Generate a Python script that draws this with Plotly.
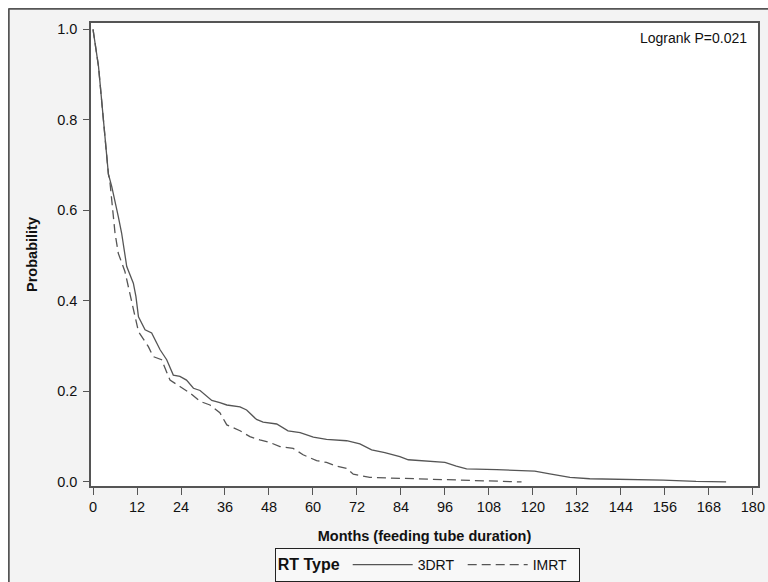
import plotly.graph_objects as go

# --- data ---
months_3drt = [0, 1.5, 4.2, 5.1, 6.9, 7.8, 9.2, 11.0, 11.7, 12.4, 14.2, 16.0, 18.3, 20.1, 21.9,
               23.7, 25.5, 27.4, 29.2, 32.4, 34.6, 36.5, 40.1, 41.9, 44.6, 46.4, 50.1, 53.2,
               56.5, 60.1, 63.7, 69.2, 72.8, 76.0, 79.6, 83.7, 86.0, 91.0, 96.0, 99.1, 101.9,
               110.1, 120.5, 124.6, 130.1, 135.5, 146.4, 155.5, 164.5, 172.7]
surv_3drt = [1.0, 0.918, 0.68, 0.653, 0.586, 0.55, 0.476, 0.439, 0.41, 0.365, 0.336, 0.329,
             0.292, 0.270, 0.236, 0.233, 0.225, 0.207, 0.202, 0.180, 0.175, 0.170, 0.166,
             0.159, 0.138, 0.132, 0.128, 0.113, 0.109, 0.099, 0.094, 0.091, 0.084, 0.071,
             0.065, 0.056, 0.049, 0.046, 0.043, 0.035, 0.029, 0.027, 0.024, 0.018, 0.010,
             0.007, 0.006, 0.004, 0.001, 0.0]

months_imrt = [0, 1.5, 4.2, 4.6, 6.0, 6.9, 8.7, 10.5, 12.4, 15.1, 16.4, 18.7, 21.0, 23.7,
               26.5, 29.2, 31.9, 34.6, 36.5, 40.1, 42.8, 45.5, 48.3, 51.0, 54.6, 57.3, 61.0,
               63.7, 66.4, 69.2, 71.0, 75.5, 87.3, 101.0, 110.1, 116.9]
surv_imrt = [1.0, 0.918, 0.68, 0.664, 0.55, 0.505, 0.465, 0.402, 0.332, 0.299, 0.277, 0.270,
             0.225, 0.211, 0.196, 0.178, 0.170, 0.153, 0.126, 0.113, 0.100, 0.093, 0.087,
             0.078, 0.074, 0.060, 0.047, 0.043, 0.035, 0.030, 0.017, 0.010, 0.007, 0.004,
             0.0015, 0.0]

x_ticks = list(range(0, 181, 12))
y_ticks = [0.0, 0.2, 0.4, 0.6, 0.8, 1.0]

FONT = "Liberation Sans, Arial, sans-serif"
LINE = "#555555"

fig = go.Figure()
fig.add_trace(go.Scatter(x=months_3drt, y=surv_3drt, mode="lines", name="3DRT",
                         line=dict(color=LINE, width=1.3)))
fig.add_trace(go.Scatter(x=months_imrt, y=surv_imrt, mode="lines", name="IMRT",
                         line=dict(color=LINE, width=1.3, dash="9px,5px")))

fig.update_layout(
    width=760, height=574,
    margin=dict(l=83, r=10, t=15, b=96, autoexpand=False),
    paper_bgcolor="#f3f3f3",
    plot_bgcolor="#ffffff",
    font=dict(family=FONT, size=14.5, color="#111111"),
    showlegend=True,
    legend=dict(
        orientation="h", x=0.504, xanchor="center", y=-0.134, yanchor="top",
        bordercolor="#222222", borderwidth=1, bgcolor="#f8f8f8",
        title=dict(text="<b>RT Type</b>", side="left", font=dict(size=16)),
        font=dict(size=14), itemwidth=60, entrywidth=40, entrywidthmode="pixels",
    ),
    xaxis=dict(
        range=[-0.55, 181.4], tickvals=x_ticks, ticks="outside", ticklen=7,
        tickcolor=LINE, tickwidth=1.3, showline=True, linecolor=LINE, linewidth=1.5,
        mirror=True, showgrid=False, zeroline=False, automargin=False,
        title=dict(text="<b>Months (feeding tube duration)</b>", standoff=17,
                   font=dict(size=14.5)),
        tickfont=dict(size=14.5),
    ),
    yaxis=dict(
        range=[-0.009, 1.014], tickvals=y_ticks, tickformat=".1f", ticks="outside",
        ticklen=6, tickcolor=LINE, tickwidth=1.3, showline=True, linecolor=LINE,
        linewidth=1.5, mirror=True, showgrid=False, zeroline=False, automargin=False,
        ticklabelstandoff=3,
        title=dict(text="<b>Probability</b>", standoff=16, font=dict(size=14.5)),
        tickfont=dict(size=14.5),
    ),
    annotations=[dict(text="Logrank P=0.021", xref="paper", yref="paper",
                      x=0.986, y=0.968, xanchor="right", yanchor="middle",
                      showarrow=False, font=dict(size=14))],
    shapes=[
        dict(type="line", xref="paper", yref="paper", x0=-0.1237, x1=-0.1237,
             y0=-0.3, y1=1.0313, line=dict(color="#555555", width=2.5)),
        dict(type="line", xref="paper", yref="paper", x0=-0.1237, x1=1.2,
             y0=1.0313, y1=1.0313, line=dict(color="#555555", width=2.5)),
    ],
)

fig.write_html(
    "out.html",
    post_script="document.body.style.margin='0';document.body.style.padding='8px 0 0 8px';"
                "document.body.style.overflow='hidden';",
)
